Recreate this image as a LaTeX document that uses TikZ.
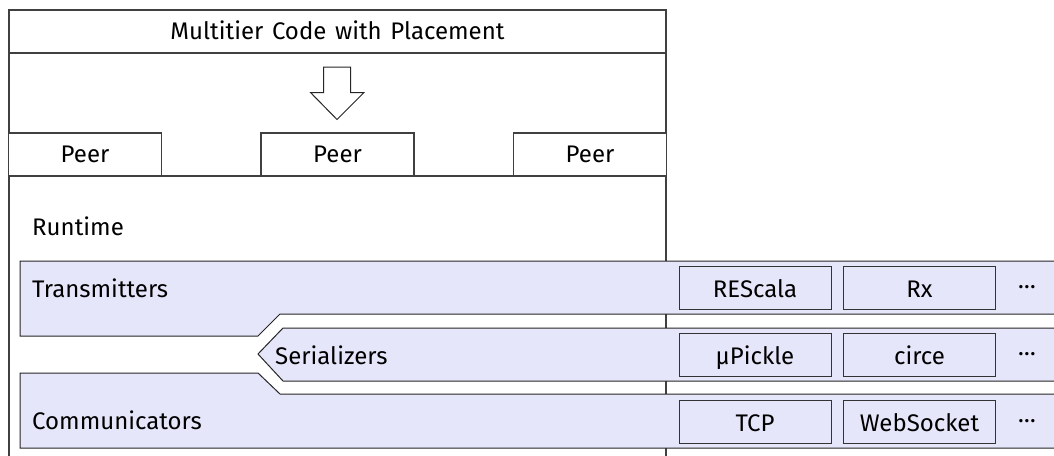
\documentclass[tikz,border=0pt]{standalone}
\usepackage{fontspec}
\setmainfont{Fira Sans}
\begin{document}
\begin{tikzpicture}[x=1pt,y=-1pt,
  every node/.style={font=\fontsize{24}{28}\selectfont, inner sep=0pt},
  frameline/.style={draw=black!75, line width=1.2pt},
  bandshape/.style={draw=black!85, fill=bandfill, line width=1pt},
  peerbox/.style={frameline, fill=white, minimum width=153pt, minimum height=43pt, text height=16pt, text depth=0pt},
  libbox/.style={draw=black!80, fill=bandfill, line width=1pt, minimum width=152pt, minimum height=43pt, text height=19pt, text depth=0pt},
  lbl/.style={anchor=base west},
]
\definecolor{bandfill}{RGB}{230,230,250}
\clip (0,0) rectangle (1054,455);
\fill[white] (0,0) rectangle (1054,455);
% outer frame
\draw[frameline] (9,460) -- (9,10) -- (666,10) -- (666,460);
\draw[frameline] (9,53) -- (666,53);
\node[anchor=base] (title) at (337.5,39) {\spaceskip=0.36em\relax Multitier Code with Placement};
% arrow
\draw[draw=black!85, line width=1pt, fill=white]
  (323.5,67) -- (350.5,67) -- (350.5,92.5) -- (364,92.5) -- (337,119.5) -- (310.5,92.5) -- (323.5,92.5) -- cycle;
% peers
\node[peerbox] (p1) at (85,154.5) {Peer};
\node[peerbox] (p2) at (337.5,154.5) {Peer};
\node[peerbox] (p3) at (590,154.5) {Peer};
\draw[frameline] (9,176) -- (666,176);
\node[lbl] (runtime) at (32,235) {Runtime};
% bands
\draw[bandshape] (20,261) -- (1070,261) -- (1070,314) -- (280,314) -- (258,336) -- (20,336) -- cycle;
\draw[bandshape] (258,354) -- (283,328) -- (1070,328) -- (1070,381) -- (283,381) -- cycle;
\draw[bandshape] (20,373) -- (258,373) -- (280,394) -- (1070,394) -- (1070,448) -- (20,448) -- cycle;
\node[lbl] (trans) at (32,297) {Transmitters};
\node[lbl] (ser) at (275,364) {Serializers};
\node[lbl] (comm) at (32,429) {Communicators};
% library boxes
\node[libbox] (rescala) at (755,287.5) {REScala};
\node[libbox] (rx) at (919.5,287.5) {Rx};
\node (d1) at (1027,287.5) {…};
\node[libbox] (upickle) at (755,354.5) {µPickle};
\node[libbox] (circe) at (919.5,354.5) {circe};
\node (d2) at (1027,354.5) {…};
\node[libbox] (tcp) at (755,421.5) {TCP};
\node[libbox] (ws) at (919.5,421.5) {WebSocket};
\node (d3) at (1027,421.5) {…};
\end{tikzpicture}
\end{document}
